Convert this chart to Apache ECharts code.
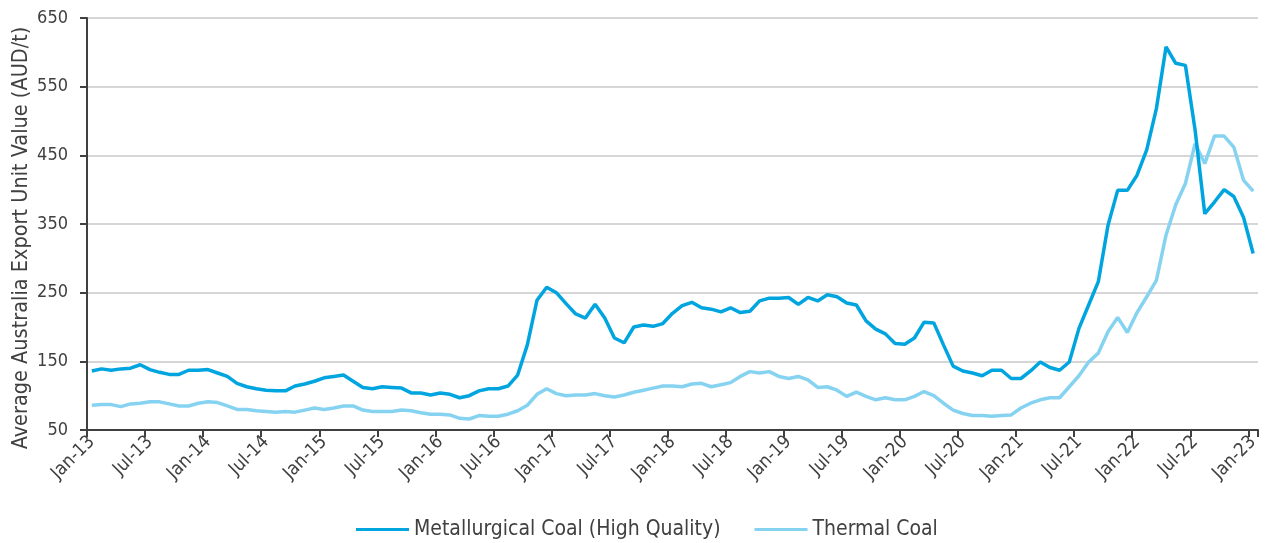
<!DOCTYPE html>
<html>
<head>
<meta charset="utf-8">
<script src="https://cdn.jsdelivr.net/npm/echarts@6/dist/echarts.min.js"></script>
<style>
html,body{margin:0;padding:0;background:#fff;}
#chart{width:1266px;height:543px;}
</style>
</head>
<body>
<div id="chart"></div>
<script>
// Monthly categories Jan-13 .. Jan-23
const monthNames = ['Jan','Feb','Mar','Apr','May','Jun','Jul','Aug','Sep','Oct','Nov','Dec'];
const years = [13,14,15,16,17,18,19,20,21,22,23];
const categories = [];
years.forEach(y => monthNames.forEach((m, k) => { if (y < 23 || k === 0) categories.push(m + '-' + y); }));

const seriesNames = ['Metallurgical Coal (High Quality)', 'Thermal Coal'];

// Metallurgical Coal (High Quality), AUD/t  (Jan-13 .. Jan-23)
const metallurgical = [
  136,139,137,139,140,145,138,134,131,131,137,137,
  138,133,128,118,113,110,108,107,107,114,117,121,
  126,128,130,121,112,110,113,112,111,104,104,101,
  104,102,97,100,107,110,110,114,130,174,239,258,
  250,234,219,213,233,213,184,177,200,203,201,205,
  220,231,236,228,226,222,228,221,223,238,242,242,
  243,233,243,238,247,244,235,232,209,197,190,176,
  175,184,207,206,174,143,136,133,129,137,137,125,
  125,136,149,141,137,149,198,232,266,348,399,399,
  421,458,518,608,584,581,487,365,382,400,390,360,
  307
];

// Thermal Coal, AUD/t  (Jan-13 .. Jan-23)
const thermal = [
  86,87,87,84,88,89,91,91,88,85,85,89,
  91,90,85,80,80,78,77,76,77,76,79,82,
  80,82,85,85,79,77,77,77,79,78,75,73,
  73,72,67,66,71,70,70,73,78,86,102,110,
  103,100,101,101,103,100,98,101,105,108,111,114,
  114,113,117,118,113,116,119,128,135,133,135,128,
  125,128,123,112,113,108,99,105,99,94,97,94,
  94,99,106,100,89,79,74,71,71,70,71,72,
  82,89,94,97,97,113,129,149,162,193,214,192,
  221,244,268,334,378,409,467,438,478,478,462,414,
  398
];

const yTicks = {min: 50, max: 650, interval: 100};

const textColor = '#404040';
const fontFamily = '"DejaVu Sans Condensed", "DejaVu Sans", sans-serif';

const chart = echarts.init(document.getElementById('chart'), null, {renderer: 'canvas'});
chart.setOption({
  animation: false,
  backgroundColor: '#ffffff',
  grid: {left: 87, right: 8, top: 18, bottom: 113, containLabel: false, outerBoundsMode: 'none'},
  legend: {
    data: seriesNames,
    left: 351,
    top: 514,
    itemWidth: 53,
    itemHeight: 3,
    itemGap: 34,
    icon: 'rect',
    textStyle: {color: textColor, fontSize: 21, fontFamily: fontFamily}
  },
  xAxis: {
    type: 'category',
    data: categories,
    boundaryGap: true,
    axisLine: {lineStyle: {color: '#404040', width: 2}},
    axisTick: {show: true, interval: 5, length: 7, lineStyle: {color: '#404040', width: 2}},
    axisLabel: {interval: 5, rotate: 45, margin: 9, color: textColor, fontSize: 18.5, fontFamily: fontFamily},
    splitLine: {show: false}
  },
  yAxis: {
    type: 'value',
    min: yTicks.min, max: yTicks.max, interval: yTicks.interval,
    name: 'Average Australia Export Unit Value (AUD/t)',
    nameLocation: 'middle',
    nameGap: 55,
    nameMoveOverlap: false,
    nameTextStyle: {color: textColor, fontSize: 21.5, fontFamily: fontFamily, padding: [0, 28, 0, 0]},
    axisLine: {show: true, lineStyle: {color: '#404040', width: 2}},
    axisTick: {show: true, length: 7, lineStyle: {color: '#404040', width: 2}},
    axisLabel: {margin: 19, color: textColor, fontSize: 18, fontFamily: fontFamily},
    splitLine: {show: true, lineStyle: {color: '#d6d6d6', width: 2}}
  },
  series: [
    {name: seriesNames[0], type: 'line', data: metallurgical, showSymbol: false, symbol: 'none',
     lineStyle: {color: '#00a5e0', width: 3.5}, itemStyle: {color: '#00a5e0'}, z: 3},
    {name: seriesNames[1], type: 'line', data: thermal, showSymbol: false, symbol: 'none',
     lineStyle: {color: '#86d3f1', width: 3.5}, itemStyle: {color: '#86d3f1'}, z: 2}
  ]
});
</script>
</body>
</html>
